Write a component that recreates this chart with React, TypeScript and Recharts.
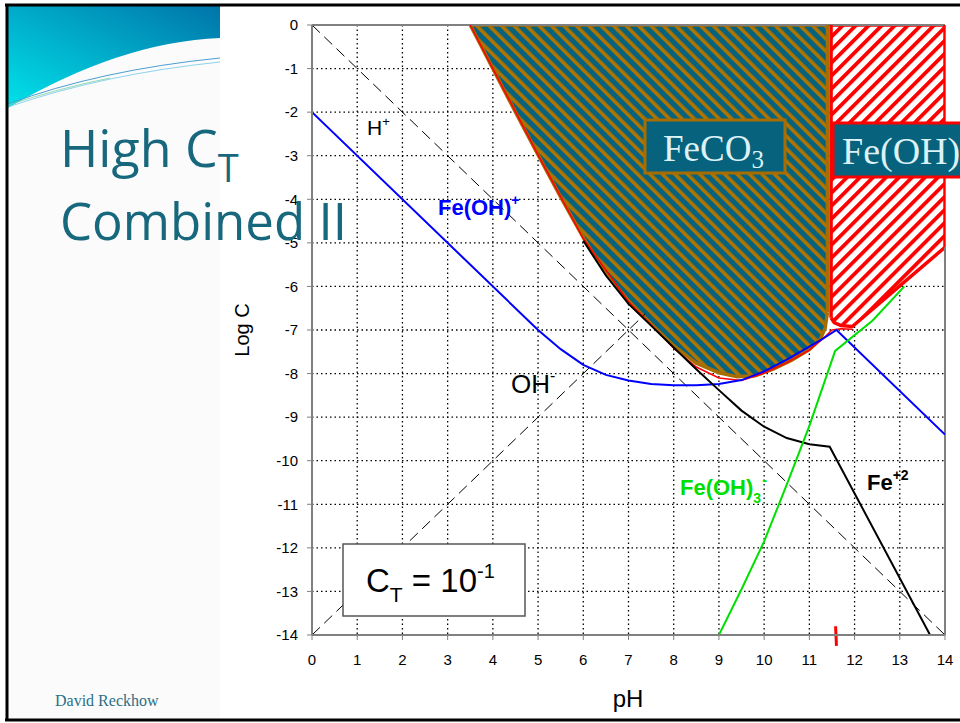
import React from 'react';
import { ComposedChart, Line, Area, XAxis, YAxis, CartesianGrid, ReferenceLine } from 'recharts';

// ---- axis ticks ----
const phTicks = [0, 1, 2, 3, 4, 5, 6, 7, 8, 9, 10, 11, 12, 13, 14];
const logCTicks = [0, -1, -2, -3, -4, -5, -6, -7, -8, -9, -10, -11, -12, -13, -14];

// ---- series (pH, log C) ----
const hPlus: [number, number][] = [[0, 0], [14, -14]];
const ohMinus: [number, number][] = [[0, -14], [7.37, -6.63]];
const feOHPlus: [number, number][] = [
  [0, -2], [5, -7], [5.5, -7.44], [6, -7.8], [6.5, -8.03], [7, -8.16], [7.5, -8.24], [8, -8.27],
  [8.5, -8.27], [9, -8.24], [9.5, -8.15], [10, -7.95], [10.5, -7.68], [11, -7.38], [11.3, -7.2],
  [11.6, -7.0], [14, -9.4],
];
const fe2: [number, number][] = [
  [6, -4.95], [6.5, -5.75], [7, -6.4], [7.5, -6.9], [8, -7.4], [8.5, -7.9], [9, -8.38], [9.5, -8.85],
  [10, -9.22], [10.5, -9.48], [11, -9.62], [11.45, -9.68], [13.67, -14],
];
const feOH3: [number, number][] = [
  [9, -14], [9.5, -12.95], [10, -11.85], [10.5, -10.55], [11, -9.2], [11.57, -7.48], [12.4, -6.78], [13.1, -6.0],
];
const totalFe: [number, number][] = [
  [3.5, 0], [4, -1.0], [5, -2.98], [6, -4.9], [7, -6.35], [7.5, -6.88], [8, -7.42], [8.5, -7.85],
  [9, -8.1], [9.5, -8.16], [10, -7.99], [10.5, -7.75], [11, -7.46], [11.3, -7.2], [11.5, -7.0],
  [11.7, -6.97], [11.95, -6.98],
];
// FeCO3(s) region: lower boundary (top is log C = 0)
const feco3Lower: [number, number][] = [
  [3.5, 0], [3.75, -0.5], [4, -1.0], [4.5, -2.0], [5, -2.98], [5.5, -3.95], [6, -4.88], [6.5, -5.7],
  [7, -6.33], [7.5, -6.86], [8, -7.36], [8.5, -7.76], [9, -7.98], [9.4, -8.07], [9.8, -8.05],
  [10.2, -7.9], [10.6, -7.7], [11, -7.45], [11.25, -7.2], [11.35, -6.95], [11.4, -6.6],
];
const feco3RightEdge: [number, number][] = [[11.4, 0], [11.4, -6.6]];
// Fe(OH)2(s) region: lower boundary
const feoh2Lower: [number, number][] = [
  [11.48, -6.72], [11.55, -6.83], [11.7, -6.9], [11.95, -6.92], [14, -5.1],
];
const feoh2LeftEdge: [number, number][] = [[11.48, 0], [11.48, -6.72]];
const feoh2RightEdge: [number, number][] = [[14, 0], [14, -5.1]];
const redMark = [{ x: 11.58, y: -13.8 }, { x: 11.6, y: -14.25 }];

const pts = (a: [number, number][]) => a.map(([x, y]) => ({ x, y }));
const band = (a: [number, number][]) => a.map(([x, low]) => ({ x, r: [low, 0] }));

const TEAL = '#06627d';
const BROWN = '#a86d00';
const RED = '#ff0000';

export default function App() {
  return (
    <div style={{ position: 'fixed', left: 0, top: 0, width: 960, height: 723, overflow: 'hidden', background: '#fff' }}>
      {/* slide background */}
      <svg width={960} height={723} style={{ position: 'absolute', left: 0, top: 0 }}>
        <defs>
          <linearGradient id="swoosh" x1="1" y1="0" x2="0" y2="1">
            <stop offset="0" stopColor="#0074a8" />
            <stop offset="1" stopColor="#00e2ea" />
          </linearGradient>
          <pattern id="feco3Hatch" patternUnits="userSpaceOnUse" width="8.8" height="8.8" patternTransform="rotate(-45)">
            <rect x="0" y="0" width="8.8" height="8.8" fill={TEAL} />
            <rect x="0" y="0" width="3.6" height="8.8" fill="#b07400" />
          </pattern>
          <pattern id="feoh2Hatch" patternUnits="userSpaceOnUse" width="9.2" height="9.2" patternTransform="rotate(45)">
            <rect x="0" y="0" width="9.2" height="9.2" fill="#ffffff" />
            <rect x="0" y="0" width="3.8" height="9.2" fill={RED} />
          </pattern>
        </defs>
        <rect x={8} y={6} width={212} height={713} fill="#fbfbfb" />
        <path d="M8,6 L220,6 L220,38 Q120,42 8,108 Z" fill="url(#swoosh)" />
        <path d="M8,104 Q100,70 220,58" fill="none" stroke="#4b9fd2" strokeWidth={1} />
        <path d="M8,107 Q104,74 220,62" fill="none" stroke="#8fd3ec" strokeWidth={1} />
        <path d="M8,105 Q60,88 110,78" fill="none" stroke="#7ed0a8" strokeWidth={0.8} />
        <line x1={5} y1={5} x2={960} y2={5} stroke="#000" strokeWidth={3} />
        <line x1={7} y1={4} x2={7} y2={721} stroke="#000" strokeWidth={3} />
        <line x1={5} y1={720} x2={960} y2={720} stroke="#000" strokeWidth={3} />
      </svg>

      <div style={{ position: 'absolute', left: 220, top: 8 }}>
        <ComposedChart width={740} height={710} margin={{ top: 17, right: 15, bottom: 53, left: 32 }}>
          <CartesianGrid stroke="#000" strokeDasharray="1.5 3" strokeWidth={1.3} />
          <XAxis
            type="number"
            dataKey="x"
            domain={[0, 14]}
            ticks={phTicks}
            interval={0}
            allowDataOverflow
            axisLine={{ stroke: '#808080', strokeWidth: 2 }}
            tickLine={{ stroke: '#808080' }}
            tickSize={5}
            tickMargin={14}
            tick={{ fill: '#000', fontSize: 15, fontFamily: 'Liberation Sans, Arial, sans-serif' }}
          />
          <YAxis
            type="number"
            domain={[-14, 0]}
            ticks={logCTicks}
            interval={0}
            allowDataOverflow
            width={60}
            axisLine={{ stroke: '#808080', strokeWidth: 2 }}
            tickLine={{ stroke: '#808080' }}
            tickSize={5}
            tickMargin={9}
            tick={{ fill: '#000', fontSize: 15, fontFamily: 'Liberation Sans, Arial, sans-serif' }}
          />
          <ReferenceLine x={14} stroke="#808080" strokeWidth={2} />
          <ReferenceLine y={0} stroke="#808080" strokeWidth={2} />

          <Line data={pts(hPlus)} dataKey="y" type="linear" stroke="#000" strokeWidth={1} strokeDasharray="11 6" dot={false} activeDot={false} isAnimationActive={false} />
          <Line data={pts(ohMinus)} dataKey="y" type="linear" stroke="#000" strokeWidth={1} strokeDasharray="11 6" dot={false} activeDot={false} isAnimationActive={false} />

          <Area data={band(feco3Lower)} dataKey="r" type="linear" fill="url(#feco3Hatch)" fillOpacity={1} stroke={BROWN} strokeWidth={3.5} dot={false} activeDot={false} isAnimationActive={false} />
          <Area data={band(feoh2Lower)} dataKey="r" type="linear" fill="url(#feoh2Hatch)" fillOpacity={1} stroke={RED} strokeWidth={3.5} dot={false} activeDot={false} isAnimationActive={false} />
          <Line data={pts(feco3RightEdge)} dataKey="y" type="linear" stroke={BROWN} strokeWidth={3.5} dot={false} activeDot={false} isAnimationActive={false} />
          <Line data={pts(feoh2LeftEdge)} dataKey="y" type="linear" stroke={RED} strokeWidth={3.5} dot={false} activeDot={false} isAnimationActive={false} />
          <Line data={pts(feoh2RightEdge)} dataKey="y" type="linear" stroke={RED} strokeWidth={3.5} dot={false} activeDot={false} isAnimationActive={false} />

          <Line data={pts(totalFe)} dataKey="y" type="linear" stroke={RED} strokeWidth={1.5} dot={false} activeDot={false} isAnimationActive={false} />
          <Line data={pts(feOHPlus)} dataKey="y" type="linear" stroke="#0000ff" strokeWidth={2} dot={false} activeDot={false} isAnimationActive={false} />
          <Line data={pts(fe2)} dataKey="y" type="linear" stroke="#000" strokeWidth={2} dot={false} activeDot={false} isAnimationActive={false} />
          <Line data={pts(feOH3)} dataKey="y" type="linear" stroke="#00e000" strokeWidth={2} dot={false} activeDot={false} isAnimationActive={false} />
          <ReferenceLine segment={redMark} stroke={RED} strokeWidth={3} ifOverflow="visible" />
        </ComposedChart>
      </div>

      {/* annotations and titles */}
      <svg width={960} height={723} style={{ position: 'absolute', left: 0, top: 0, pointerEvents: 'none' }}>
        <g fontFamily="Liberation Sans, Arial, sans-serif">
          <text x={0} y={0} transform="translate(249,330) rotate(-90)" textAnchor="middle" fontSize={20} fill="#000">Log C</text>
          <text x={628} y={707} textAnchor="middle" fontSize={24} fill="#000">pH</text>

          <text x={367} y={135} fontSize={21} fill="#000">H<tspan dy={-9} fontSize={13}>+</tspan></text>
          <text x={438} y={215} fontSize={22} fontWeight="bold" fill="#0000ff">Fe(OH)<tspan dy={-10} fontSize={14}>+</tspan></text>
          <text x={511} y={393} fontSize={26} fill="#000">OH<tspan dy={-12} fontSize={16}>-</tspan></text>
          <text x={680} y={495} fontSize={22} fontWeight="bold" fill="#00e000">Fe(OH)<tspan dy={8} fontSize={14}>3</tspan><tspan dx={1} dy={-18} fontSize={15}>-</tspan></text>
          <text x={867} y={490} fontSize={22} fontWeight="bold" fill="#000">Fe<tspan dy={-10} fontSize={14}>+2</tspan></text>

          <rect x={343} y={544} width={182} height={72} fill="#fff" stroke="#555" strokeWidth={1.5} />
          <text x={366} y={592} fontSize={33} fill="#000">C<tspan dy={10} fontSize={21}>T</tspan><tspan dy={-10} fontSize={33}> = 10</tspan><tspan dy={-14} fontSize={20}>-1</tspan></text>
        </g>

        <g fontFamily="Liberation Serif, Times New Roman, serif">
          <rect x={645} y={120} width={140} height={53} fill={TEAL} stroke={BROWN} strokeWidth={3} />
          <text x={663} y={161} fontSize={37} fill="#dcf2f6">FeCO<tspan dy={7} fontSize={25}>3</tspan></text>
          <rect x={833} y={123} width={140} height={54} fill={TEAL} stroke={RED} strokeWidth={3} />
          <text x={842} y={164} fontSize={38} fill="#dcf2f6">Fe(OH)<tspan dy={7} fontSize={25}>2</tspan></text>
          <text x={55} y={706} fontSize={16} fill="#2b6f86">David Reckhow</text>
        </g>

        <g fontFamily="Open Sans, Noto Sans, sans-serif" fill="#17677d">
          <text x={60} y={167} fontSize={52}>High C<tspan dy={15} fontSize={38}>T</tspan></text>
          <text x={60} y={240} fontSize={51}>Combined II</text>
        </g>
      </svg>
    </div>
  );
}
